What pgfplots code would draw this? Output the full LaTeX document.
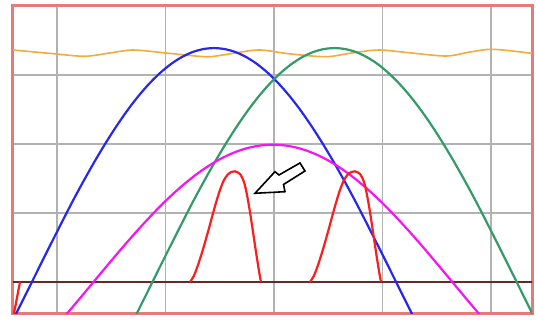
\documentclass[border=0pt]{standalone}
\usepackage{pgfplots}
\pgfplotsset{compat=1.18}
\definecolor{framecol}{RGB}{228,122,122}
\definecolor{gridcol}{RGB}{178,178,178}
\definecolor{cblue}{RGB}{40,40,235}
\definecolor{cgreen}{RGB}{50,155,105}
\definecolor{cmag}{RGB}{245,20,245}
\definecolor{cred}{RGB}{250,30,30}
\definecolor{corange}{RGB}{245,170,60}
\definecolor{cbase}{RGB}{105,40,40}
\begin{document}
\begin{tikzpicture}
\useasboundingbox (0,0) rectangle (536pt,320pt);
\begin{axis}[
  at={(13pt,6pt)}, anchor=south west,
  scale only axis, width=519pt, height=308pt,
  xmin=0.5945, xmax=5.3779, ymin=-0.4638, ymax=4,
  xtick={1,2,3,4,5}, ytick={1,2,3},
  xticklabels={}, yticklabels={},
  major tick length=0pt,
  grid=major,
  grid style={color=gridcol, line width=1.5pt},
  axis line style={draw=framecol, line width=3pt},
  clip=true,
]
% baseline
\addplot[cbase, line width=2.3pt] coordinates {(0.5,0) (5.5,0)};
% orange
\addplot[corange, line width=1.6pt, smooth] coordinates {
(0.5945,3.362) (0.7972,3.333) (1.0,3.304) (1.2581,3.271) (1.4885,3.319)
(1.7005,3.362) (2.0046,3.319) (2.2258,3.283) (2.4101,3.265) (2.6590,3.323)
(2.8710,3.362) (3.1567,3.304) (3.4793,3.265) (3.7189,3.319) (3.9677,3.362)
(4.2442,3.323) (4.5853,3.275) (4.8065,3.333) (5.0184,3.372) (5.3779,3.314)};
% blue
\addplot[cblue, line width=2.2pt, smooth] coordinates {
(0.547,-0.699) (0.647,-0.385) (0.747,-0.069) (0.847,0.248) (0.947,0.562)
(1.047,0.873) (1.147,1.178) (1.247,1.469) (1.347,1.747) (1.447,2.010)
(1.547,2.256) (1.647,2.483) (1.747,2.688) (1.847,2.869) (1.947,3.025)
(2.047,3.155) (2.147,3.257) (2.247,3.331) (2.347,3.375) (2.447,3.390)
(2.547,3.375) (2.647,3.331) (2.747,3.257) (2.847,3.155) (2.947,3.025)
(3.047,2.869) (3.147,2.688) (3.247,2.483) (3.347,2.256) (3.447,2.010)
(3.547,1.747) (3.647,1.469) (3.747,1.178) (3.847,0.873) (3.947,0.562)
(4.047,0.248) (4.147,-0.069) (4.247,-0.385) (4.347,-0.699)};
% green
\addplot[cgreen, line width=2.2pt, smooth] coordinates {
(1.658,-0.699) (1.758,-0.385) (1.858,-0.069) (1.958,0.248) (2.058,0.562)
(2.158,0.873) (2.258,1.178) (2.358,1.469) (2.458,1.747) (2.558,2.010)
(2.658,2.256) (2.758,2.483) (2.858,2.688) (2.958,2.869) (3.058,3.025)
(3.158,3.155) (3.258,3.257) (3.358,3.331) (3.458,3.375) (3.558,3.390)
(3.658,3.375) (3.758,3.331) (3.858,3.257) (3.958,3.155) (4.058,3.025)
(4.158,2.869) (4.258,2.688) (4.358,2.483) (4.458,2.256) (4.558,2.010)
(4.658,1.747) (4.758,1.469) (4.858,1.178) (4.958,0.873) (5.058,0.562)
(5.158,0.248) (5.258,-0.069) (5.358,-0.385) (5.458,-0.699)};
% magenta
\addplot[cmag, line width=2.2pt, smooth] coordinates {
(0.99,-0.643) (1.09,-0.462) (1.19,-0.276) (1.29,-0.088) (1.39,0.101)
(1.49,0.289) (1.59,0.475) (1.69,0.656) (1.79,0.831) (1.89,0.999)
(1.99,1.158) (2.09,1.306) (2.19,1.442) (2.29,1.566) (2.39,1.675)
(2.49,1.770) (2.59,1.848) (2.69,1.910) (2.79,1.954) (2.89,1.981)
(2.99,1.990)
(3.09,1.981) (3.19,1.954) (3.29,1.910) (3.39,1.848) (3.49,1.770)
(3.59,1.675) (3.69,1.566) (3.79,1.442) (3.89,1.306) (3.99,1.158)
(4.09,0.999) (4.19,0.831) (4.29,0.656) (4.39,0.475) (4.49,0.289)
(4.59,0.101) (4.69,-0.088) (4.79,-0.276) (4.89,-0.462) (4.99,-0.643)};
% red
\addplot[cred, line width=2.2pt] coordinates {(0.659,0) (0.598,-0.5)};
\addplot[cred, line width=2.2pt, smooth] coordinates {
(2.2258,0) (2.2604,0.086) (2.2949,0.225) (2.3295,0.391) (2.3641,0.574)
(2.3987,0.768) (2.4332,0.968) (2.4678,1.162) (2.5024,1.335) (2.5369,1.470)
(2.5715,1.553) (2.6061,1.594) (2.6406,1.604) (2.6866,1.565) (2.7235,1.449)
(2.7512,1.261) (2.7788,1.014) (2.8065,0.725) (2.8341,0.435) (2.8618,0.159)
(2.8802,0)};
\addplot[cred, line width=2.2pt, smooth] coordinates {
(3.3318,0) (3.3664,0.086) (3.4009,0.225) (3.4355,0.391) (3.4701,0.574)
(3.5047,0.768) (3.5392,0.968) (3.5738,1.162) (3.6084,1.335) (3.6429,1.470)
(3.6775,1.553) (3.7121,1.594) (3.7466,1.604) (3.7926,1.565) (3.8295,1.449)
(3.8572,1.261) (3.8848,1.014) (3.9125,0.725) (3.9401,0.435) (3.9678,0.159)
(3.9862,0)};
% arrow
\addplot[draw=black, fill=white, line width=1.6pt, line join=miter] coordinates {
(2.8249,1.2855) (3.1014,1.3087) (3.0876,1.4130) (3.2857,1.6087)
(3.2396,1.7246) (3.0461,1.5507) (3.0092,1.5986)} -- cycle;
\end{axis}
\end{tikzpicture}
\end{document}
